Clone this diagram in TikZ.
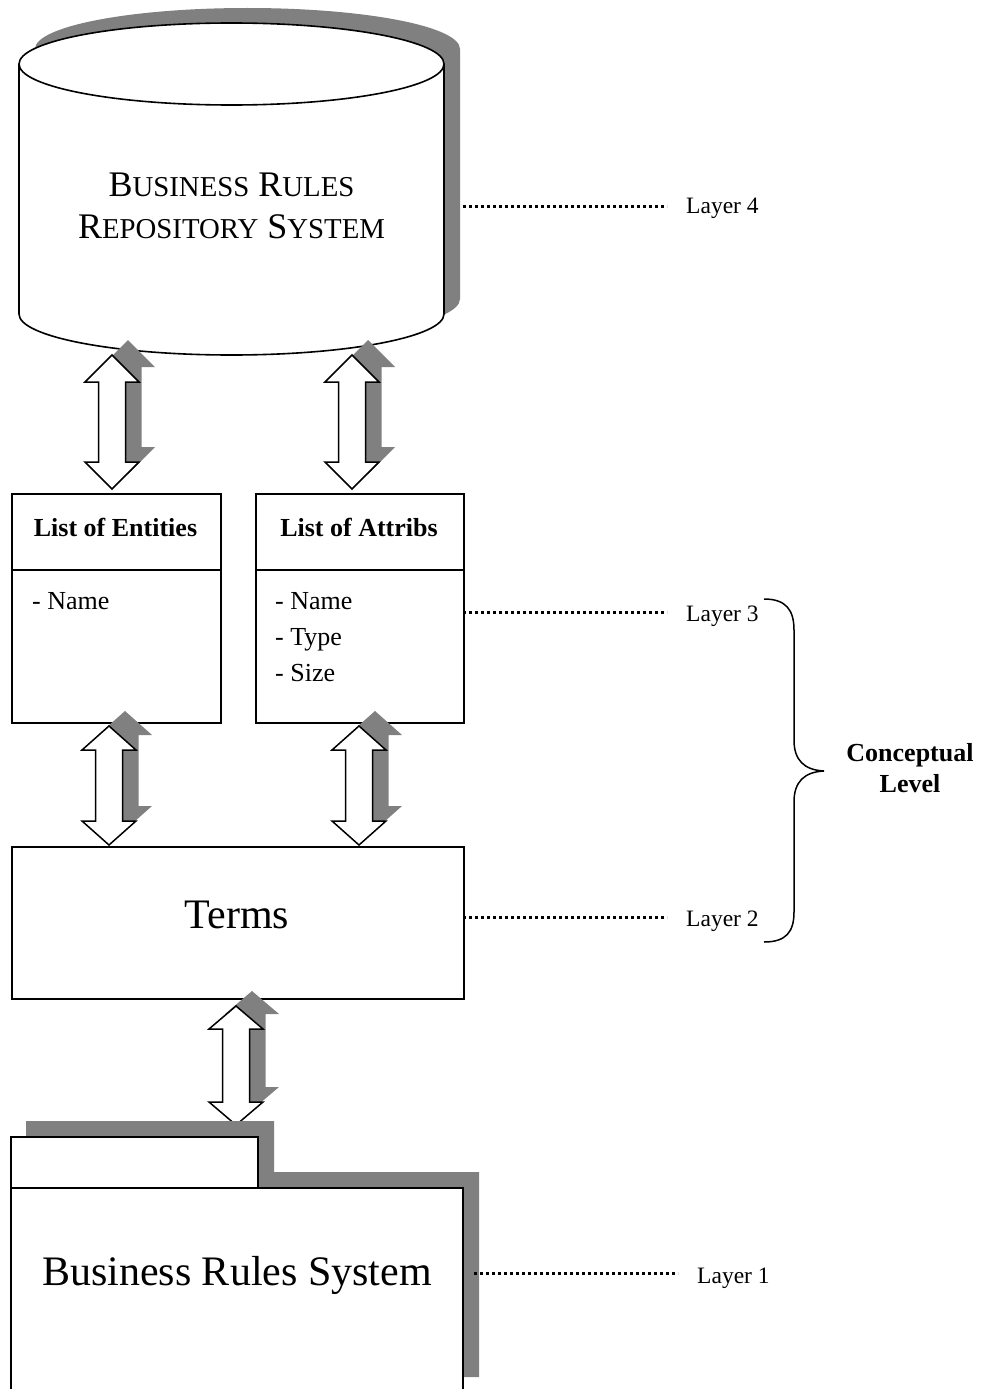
\documentclass[tikz,border=0pt]{standalone}
\usepackage{fontspec}
\setmainfont{Liberation Serif}
\newcommand{\lowcap}[1]{{\fontsize{28.8}{42}\selectfont #1}}

% block double arrow with a drop shadow: centre x, top tip y, bottom tip y, head length
\newcommand{\dblarrow}[4]{%
  \begin{scope}[shift={(16,-15)}]
    \fill[shadowgray] (#1,#2) -- ({#1+27},{#2+#4}) -- ({#1+13.5},{#2+#4}) -- ({#1+13.5},{#3-#4})
      -- ({#1+27},{#3-#4}) -- (#1,#3) -- ({#1-27},{#3-#4}) -- ({#1-13.5},{#3-#4})
      -- ({#1-13.5},{#2+#4}) -- ({#1-27},{#2+#4}) -- cycle;
  \end{scope}
  \draw[blockarrow] (#1,#2) -- ({#1+27},{#2+#4}) -- ({#1+13.5},{#2+#4}) -- ({#1+13.5},{#3-#4})
      -- ({#1+27},{#3-#4}) -- (#1,#3) -- ({#1-27},{#3-#4}) -- ({#1-13.5},{#3-#4})
      -- ({#1-13.5},{#2+#4}) -- ({#1-27},{#2+#4}) -- cycle;}

\definecolor{shadowgray}{HTML}{808080}

\tikzset{
  outline/.style={draw=black, line width=1.6pt, fill=white},
  blockarrow/.style={draw=black, line width=1.5pt, fill=white, line join=miter},
  leader/.style={line width=3pt, dash pattern=on 3pt off 3pt},
  layerlabel/.style={font=\fontsize{23.5}{28}\selectfont, anchor=west, inner sep=0pt},
  boxtitle/.style={font=\fontsize{26}{30}\selectfont\bfseries, inner sep=0pt},
  boxitem/.style={font=\fontsize{26}{36}\selectfont, align=left, anchor=west, inner sep=0pt},
  bigtext/.style={font=\fontsize{42}{48}\selectfont, inner sep=0pt},
}

\begin{document}
\begin{tikzpicture}[x=1pt, y=-1pt]
  \useasboundingbox (0,0) rectangle (984,1389);
  \clip (0,0) rectangle (984,1389);
  \fill[white] (0,0) rectangle (984,1389);

  % repository cylinder and its shadow (y grows downwards here)
  \fill[shadowgray] (35,49) -- (35,299)
     arc[start angle=180, end angle=0, x radius=212.5, y radius=41] -- (460,49)
     arc[start angle=0, end angle=-180, x radius=212.5, y radius=41] -- cycle;
  \draw[outline] (19,64) -- (19,314)
     arc[start angle=180, end angle=0, x radius=212.5, y radius=41] -- (444,64);
  \draw[outline] (231.5,64) ellipse[x radius=212.5, y radius=41];
  \node[align=center, inner sep=0pt, font=\fontsize{36}{42}\selectfont] (repo) at (231.5,206)
     {B\lowcap{USINESS} R\lowcap{ULES}\\R\lowcap{EPOSITORY} S\lowcap{YSTEM}};

  % arrows between the repository and the lists
  \dblarrow{112}{355}{489}{27}
  \dblarrow{352}{355}{489}{27}

  % list of entities
  \node[outline, anchor=north west, minimum width=209pt, minimum height=229pt, inner sep=0pt] (ent) at (11,493) {};
  \draw[line width=1.6pt] (11,570) -- (220,570);
  \node[boxtitle] (entt) at (115.5,527) {List of Entities};
  \node[boxitem] (enti) at (32,601) {- Name};

  % list of attributes
  \node[outline, anchor=north west, minimum width=208pt, minimum height=229pt, inner sep=0pt] (att) at (255,493) {};
  \draw[line width=1.6pt] (255,570) -- (463,570);
  \node[boxtitle] (attt) at (359,527) {List of Attribs};
  \node[boxitem] (atti) at (275,637) {- Name\\- Type\\- Size};

  % arrows between the lists and the terms
  \dblarrow{109}{726}{845}{24}
  \dblarrow{359}{726}{845}{24}

  % terms
  \node[outline, anchor=north west, minimum width=452pt, minimum height=152pt, inner sep=0pt] (terms) at (11,846) {};
  \node[bigtext] (termst) at (237,915) {Terms};

  % arrow between the terms and the business rules system
  \dblarrow{236}{1006}{1125}{23}

  % business rules system folder with shadow
  \fill[shadowgray] (26,1121) -- (274,1121) -- (274,1172) -- (479,1172) -- (479,1377) -- (26,1377) -- cycle;
  \draw[outline] (11,1137) rectangle (258,1188);
  \draw[outline] (11,1188) rectangle (463,1400);
  \node[bigtext] (brs) at (237,1275) {Business Rules System};

  % layer leaders and labels
  \node[layerlabel] (l4) at (686,208) {Layer 4};
  \node[layerlabel] (l3) at (686,616) {Layer 3};
  \node[layerlabel] (l2) at (686,921) {Layer 2};
  \node[layerlabel] (l1) at (697,1278) {Layer 1};
  \coordinate (l4s) at (463,206);
  \coordinate (l3s) at (463,612);
  \coordinate (l2s) at (463,917);
  \coordinate (l1s) at (474,1273);
  \draw[leader] (l4s) -- (l4s -| 667,0);
  \draw[leader] (l3s) -- (l3s -| 667,0);
  \draw[leader] (l2s) -- (l2s -| 667,0);
  \draw[leader] (l1s) -- (l1s -| 678,0);

  % brace grouping layers 2 and 3
  \draw[line width=1.5pt] (764,599) .. controls (786,599) and (794,610) .. (794,630)
     -- (794,740) .. controls (794,760) and (804,770) .. (824,771)
     .. controls (804,772) and (794,782) .. (794,802)
     -- (794,912) .. controls (794,932) and (786,942) .. (764,942);
  \node[boxtitle, align=center, font=\fontsize{26}{31}\selectfont\bfseries] (concept) at (910,768) {Conceptual\\Level};
\end{tikzpicture}
\end{document}
